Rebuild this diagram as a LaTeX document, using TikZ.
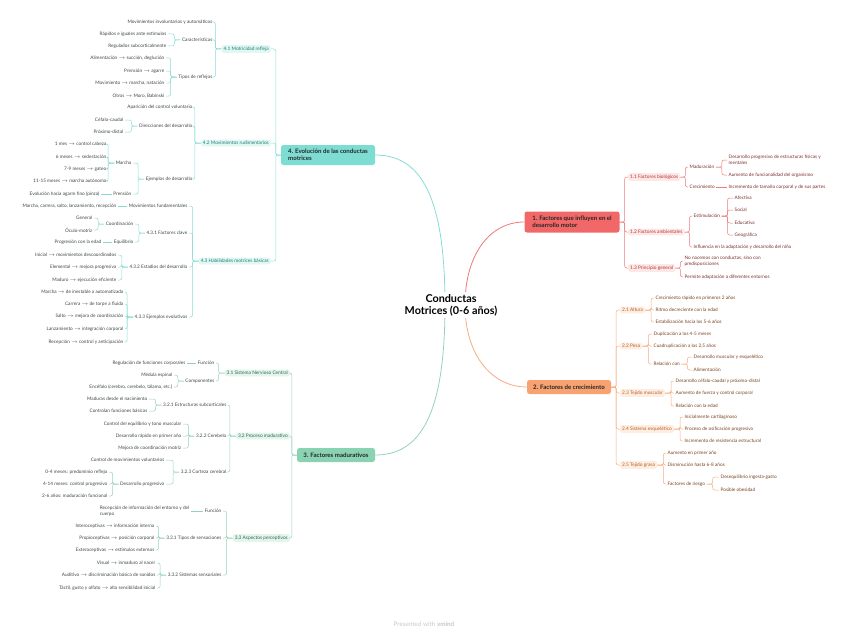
\documentclass[tikz,border=0pt]{standalone}
\usepackage{fontspec}
\setmainfont{Lato}
\usepackage{tikz}
\usetikzlibrary{positioning, backgrounds}
\definecolor{redln}{RGB}{238,122,122}
\definecolor{redbox}{RGB}{242,104,104}
\definecolor{redpill}{RGB}{253,232,232}
\definecolor{redsub}{RGB}{185,50,50}
\definecolor{redlf}{RGB}{125,45,45}
\definecolor{orln}{RGB}{245,172,128}
\definecolor{orbox}{RGB}{247,162,112}
\definecolor{orpill}{RGB}{254,238,226}
\definecolor{orsub}{RGB}{185,95,40}
\definecolor{orlf}{RGB}{120,65,30}
\definecolor{grnln}{RGB}{150,210,185}
\definecolor{grnbox}{RGB}{138,211,178}
\definecolor{grnpill}{RGB}{229,245,238}
\definecolor{grnsub}{RGB}{40,105,78}
\definecolor{tealln}{RGB}{135,220,212}
\definecolor{tealbox}{RGB}{125,221,211}
\definecolor{tealpill}{RGB}{225,247,244}
\definecolor{tealsub}{RGB}{30,125,116}
\definecolor{leafgray}{RGB}{62,70,68}
\newcommand{\toarr}{$\rightarrow$}

\begin{document}
\begin{tikzpicture}[
  x=1pt, y=-1pt,
  root/.style={fill=white, align=center, inner sep=2pt,
               font=\bfseries\fontsize{10.8}{12.2}\selectfont},
  mbox/.style={rectangle, rounded corners=2.5pt, align=left, text=black!85,
               inner xsep=4pt, inner ysep=2.5pt,
               font=\bfseries\fontsize{6.1}{7}\selectfont},
  pill/.style={rectangle, rounded corners=1.5pt, inner xsep=2pt, inner ysep=1.6pt,
               font=\fontsize{4.8}{5.8}\selectfont},
  leaf/.style={inner xsep=1.5pt, inner ysep=1pt, align=left,
               font=\fontsize{4.7}{5.9}\selectfont},
  p1/.style={pill, anchor=west, fill=redpill, text=redsub},
  p2/.style={pill, anchor=west, fill=orpill, text=orsub},
  p3/.style={pill, anchor=east, fill=grnpill, text=grnsub},
  p4/.style={pill, anchor=east, fill=tealpill, text=tealsub},
  l1/.style={leaf, anchor=west, text=redlf},
  l2/.style={leaf, anchor=west, text=orlf},
  l3/.style={leaf, anchor=east, text=leafgray},
  l4/.style={leaf, anchor=east, text=leafgray},
  k1/.style={draw=redln, line width=.5pt, rounded corners=2pt},
  k2/.style={draw=orln, line width=.5pt, rounded corners=2pt},
  k3/.style={draw=grnln, line width=.5pt, rounded corners=2pt},
  k4/.style={draw=tealln, line width=.5pt, rounded corners=2pt}
]
  \useasboundingbox (0,0) rectangle (848,634);

  % centre and main branches
  \node[root] (ctr) at (451,305) {Conductas\\Motrices (0-6 años)};
  \coordinate (cL) at ([xshift=-6pt]ctr.center);
  \coordinate (cR) at ([xshift=14pt]ctr.center);
  \node[mbox, fill=redbox, minimum width=95pt, minimum height=21pt] (b1) at (572,222)
    {1. Factores que influyen en el\\desarrollo motor};
  \node[mbox, fill=orbox, minimum width=84pt, minimum height=14pt] (b2) at (569,387)
    {2. Factores de crecimiento};
  \node[mbox, fill=grnbox, minimum width=78pt, minimum height=14pt] (b3) at (336,455)
    {3. Factores madurativos};
  \node[mbox, fill=tealbox, minimum width=94pt, minimum height=20pt] (b4) at (328,155)
    {4. Evolución de las conductas\\motrices};
  \begin{scope}[on background layer]
    \draw[redln, line width=.8pt] (b1.west) .. controls +(-35,0) and +(0,-50) .. (cR);
    \draw[orln, line width=.8pt] (cR) .. controls +(0,50) and +(-35,0) .. (b2.west);
    \draw[grnln, line width=.8pt] (cL) .. controls +(0,110) and +(45,0) .. (b3.east);
    \draw[tealln, line width=.8pt] (b4.east) .. controls +(45,0) and +(0,-110) .. (cL);
  \end{scope}

  % 1. Factores que influyen
  \node[p1] (s11) at (628,177) {1.1 Factores biológicos};
  \node[p1] (s12) at (628,232) {1.2 Factores ambientales};
  \node[p1] (s13) at (628,268) {1.3 Principio general};
  \node[l1] (t111) at (688,167) {Maduración};
  \node[l1] (t112) at (688,187) {Crecimiento};
  \node[l1] (u1111) at (727,160) {Desarrollo progresivo de estructuras físicas y\\mentales};
  \node[l1] (u1112) at (727,175) {Aumento de funcionalidad del organismo};
  \node[l1] (u1121) at (727,187) {Incremento de tamaño corporal y de sus partes};
  \node[l1] (t121) at (692,216) {Estimulación};
  \node[l1] (t122) at (692,247) {Influencia en la adaptación y desarrollo del niño};
  \node[l1] (u1211) at (733,198) {Afectiva};
  \node[l1] (u1212) at (733,210) {Social};
  \node[l1] (u1213) at (733,223) {Educativa};
  \node[l1] (u1214) at (733,235) {Geográfica};
  \node[l1] (t131) at (683,261) {No nacemos con conductas, sino con\\predisposiciones};
  \node[l1] (t132) at (683,277) {Permite adaptación a diferentes entornos};

  \foreach \k in {s11,s12,s13} \draw[k1] (b1.east) -- ++(5,0) |- (\k.west);
  \foreach \k in {t111,t112} \draw[k1] (s11.east) -- ++(5,0) |- (\k.west);
  \foreach \k in {u1111,u1112} \draw[k1] (t111.east) -- ++(6,0) |- (\k.west);
  \draw[k1] (t112.east) -- (u1121.west);
  \foreach \k in {t121,t122} \draw[k1] (s12.east) -- ++(5,0) |- (\k.west);
  \foreach \k in {u1211,u1212,u1213,u1214} \draw[k1] (t121.east) -- ++(6,0) |- (\k.west);
  \foreach \k in {t131,t132} \draw[k1] (s13.east) -- ++(5,0) |- (\k.west);

  % 2. Factores de crecimiento
  \node[p2] (s21) at (620,310) {2.1 Altura};
  \node[p2] (s22) at (620,346) {2.2 Peso};
  \node[p2] (s23) at (620,393) {2.3 Tejido muscular};
  \node[p2] (s24) at (620,429) {2.4 Sistema esquelético};
  \node[p2] (s25) at (620,465) {2.5 Tejido graso};
  \node[l2] (t211) at (654,298) {Crecimiento rápido en primeros 2 años};
  \node[l2] (t212) at (654,310) {Ritmo decreciente con la edad};
  \node[l2] (t213) at (654,322) {Estabilización hacia los 5-6 años};
  \node[l2] (t221) at (652,334) {Duplicación a los 4-5 meses};
  \node[l2] (t222) at (652,346) {Cuadruplicación a los 2,5 años};
  \node[l2] (t223) at (652,364) {Relación con};
  \node[l2] (u2231) at (692,357) {Desarrollo muscular y esquelético};
  \node[l2] (u2232) at (692,370) {Alimentación};
  \node[l2] (t231) at (674,381) {Desarrollo céfalo-caudal y próximo-distal};
  \node[l2] (t232) at (674,393) {Aumento de fuerza y control corporal};
  \node[l2] (t233) at (674,406) {Relación con la edad};
  \node[l2] (t241) at (683,417) {Inicialmente cartilaginoso};
  \node[l2] (t242) at (683,429) {Proceso de osificación progresiva};
  \node[l2] (t243) at (683,441) {Incremento de resistencia estructural};
  \node[l2] (t251) at (666,453) {Aumento en primer año};
  \node[l2] (t252) at (666,465) {Disminución hasta 6-8 años};
  \node[l2] (t253) at (666,484) {Factores de riesgo};
  \node[l2] (u2531) at (719,477) {Desequilibrio ingesta-gasto};
  \node[l2] (u2532) at (719,490) {Posible obesidad};

  \foreach \k in {s21,s22,s23,s24,s25} \draw[k2] (b2.east) -- ++(5,0) |- (\k.west);
  \foreach \k in {t211,t212,t213} \draw[k2] (s21.east) -- ++(6,0) |- (\k.west);
  \foreach \k in {t221,t222,t223} \draw[k2] (s22.east) -- ++(6,0) |- (\k.west);
  \foreach \k in {u2231,u2232} \draw[k2] (t223.east) -- ++(6,0) |- (\k.west);
  \foreach \k in {t231,t232,t233} \draw[k2] (s23.east) -- ++(6,0) |- (\k.west);
  \foreach \k in {t241,t242,t243} \draw[k2] (s24.east) -- ++(6,0) |- (\k.west);
  \foreach \k in {t251,t252,t253} \draw[k2] (s25.east) -- ++(6,0) |- (\k.west);
  \foreach \k in {u2531,u2532} \draw[k2] (t253.east) -- ++(6,0) |- (\k.west);

  % 3. Factores madurativos
  \node[p3] (s31) at (290,373) {3.1 Sistema Nervioso Central};
  \node[p3] (s32) at (290,436) {3.2 Proceso madurativo};
  \node[p3] (s33) at (290,538) {3.3 Aspectos perceptivos};
  \node[l3] (t311) at (216,363) {Función};
  \node[l3] (t312) at (216,381) {Componentes};
  \node[l3] (u3111) at (187,363) {Regulación de funciones corporales};
  \node[l3] (u3121) at (174,375) {Médula espinal};
  \node[l3] (u3122) at (174,387) {Encéfalo (cerebro, cerebelo, tálamo, etc.)};
  \node[l3] (t321) at (228,405) {3.2.1 Estructuras subcorticales};
  \node[l3] (t322) at (228,436) {3.2.2 Cerebelo};
  \node[l3] (t323) at (228,472) {3.2.3 Corteza cerebral};
  \node[l3] (u3211) at (149,399) {Maduras desde el nacimiento};
  \node[l3] (u3212) at (149,411) {Controlan funciones básicas};
  \node[l3] (u3221) at (183,424) {Control del equilibrio y tono muscular};
  \node[l3] (u3222) at (183,436) {Desarrollo rápido en primer año};
  \node[l3] (u3223) at (183,448) {Mejora de coordinación motriz};
  \node[l3] (u3231) at (166,460) {Control de movimientos voluntarios};
  \node[l3] (u3232) at (166,484) {Desarrollo progresivo};
  \node[l3] (v32321) at (109,472) {0-4 meses: predominio reflejo};
  \node[l3] (v32322) at (109,484) {4-14 meses: control progresivo};
  \node[l3] (v32323) at (109,496) {2-6 años: maduración funcional};
  \node[l3] (t331) at (223,511) {Función};
  \node[l3] (t332) at (223,538) {3.3.1 Tipos de sensaciones};
  \node[l3] (t333) at (223,575) {3.3.2 Sistemas sensoriales};
  \node[l3] (u3311) at (191,511) {Recepción de información del entorno y del\\cuerpo};
  \node[l3] (u3321) at (156,526) {Interoceptivas \toarr{} información interna};
  \node[l3] (u3322) at (156,538) {Propioceptivas \toarr{} posición corporal};
  \node[l3] (u3323) at (156,550) {Exteroceptivas \toarr{} estímulos externos};
  \node[l3] (u3331) at (157,563) {Visual \toarr{} inmaduro al nacer};
  \node[l3] (u3332) at (157,575) {Auditivo \toarr{} discriminación básica de sonidos};
  \node[l3] (u3333) at (157,588) {Táctil, gusto y olfato \toarr{} alta sensibilidad inicial};

  \foreach \k in {s31,s32,s33} \draw[k3] (b3.west) -- ++(-5,0) |- (\k.east);
  \foreach \k in {t311,t312} \draw[k3] (s31.west) -- ++(-6,0) |- (\k.east);
  \draw[k3] (t311.west) -- (u3111.east);
  \foreach \k in {u3121,u3122} \draw[k3] (t312.west) -- ++(-6,0) |- (\k.east);
  \foreach \k in {t321,t322,t323} \draw[k3] (s32.west) -- ++(-6,0) |- (\k.east);
  \foreach \k in {u3211,u3212} \draw[k3] (t321.west) -- ++(-6,0) |- (\k.east);
  \foreach \k in {u3221,u3222,u3223} \draw[k3] (t322.west) -- ++(-6,0) |- (\k.east);
  \foreach \k in {u3231,u3232} \draw[k3] (t323.west) -- ++(-6,0) |- (\k.east);
  \foreach \k in {v32321,v32322,v32323} \draw[k3] (u3232.west) -- ++(-6,0) |- (\k.east);
  \foreach \k in {t331,t332,t333} \draw[k3] (s33.west) -- ++(-6,0) |- (\k.east);
  \draw[k3] (t331.west) -- (u3311.east);
  \foreach \k in {u3321,u3322,u3323} \draw[k3] (t332.west) -- ++(-6,0) |- (\k.east);
  \foreach \k in {u3331,u3332,u3333} \draw[k3] (t333.west) -- ++(-6,0) |- (\k.east);

  % 4. Evolucion de las conductas motrices
  \node[p4] (s41) at (271,49) {4.1 Motricidad refleja};
  \node[p4] (s42) at (271,143) {4.2 Movimientos rudimentarios};
  \node[p4] (s43) at (271,261) {4.3 Habilidades motrices básicas};
  \node[l4] (t411) at (214,22) {Movimientos involuntarios y automáticos};
  \node[l4] (t412) at (214,40) {Características};
  \node[l4] (t413) at (214,77) {Tipos de reflejos};
  \node[l4] (u4121) at (168,34) {Rápidos e iguales ante estímulos};
  \node[l4] (u4122) at (168,46) {Regulados subcorticalmente};
  \node[l4] (u4131) at (166,58) {Alimentación \toarr{} succión, deglución};
  \node[l4] (u4132) at (166,71) {Prensión \toarr{} agarre};
  \node[l4] (u4133) at (166,83) {Movimiento \toarr{} marcha, natación};
  \node[l4] (u4134) at (166,96) {Otros \toarr{} Moro, Babinski};
  \node[l4] (t421) at (194,107) {Aparición del control voluntario};
  \node[l4] (t422) at (194,126) {Direcciones del desarrollo};
  \node[l4] (t423) at (194,179) {Ejemplos de desarrollo};
  \node[l4] (u4221) at (125,120) {Céfalo-caudal};
  \node[l4] (u4222) at (125,132) {Próximo-distal};
  \node[l4] (u4231) at (133,163) {Marcha};
  \node[l4] (u4232) at (133,194) {Prensión};
  \node[l4] (v42311) at (108,144) {1 mes \toarr{} control cabeza};
  \node[l4] (v42312) at (108,157) {6 meses \toarr{} sedestación};
  \node[l4] (v42313) at (108,169) {7-9 meses \toarr{} gateo};
  \node[l4] (v42314) at (108,181) {11-15 meses \toarr{} marcha autónoma};
  \node[l4] (v42321) at (101,194) {Evolución hacia agarre fino (pinza)};
  \node[l4] (t431) at (189,206) {Movimientos fundamentales};
  \node[l4] (t432) at (189,233) {4.3.1 Factores clave};
  \node[l4] (t433) at (189,267) {4.3.2 Estadios del desarrollo};
  \node[l4] (t434) at (189,317) {4.3.3 Ejemplos evolutivos};
  \node[l4] (u4311) at (118,206) {Marcha, carrera, salto, lanzamiento, recepción};
  \node[l4] (u4321) at (135,224) {Coordinación};
  \node[l4] (u4322) at (135,242) {Equilibrio};
  \node[l4] (v43211) at (94,218) {General};
  \node[l4] (v43212) at (94,230) {Óculo-motriz};
  \node[l4] (v43221) at (103,242) {Progresión con la edad};
  \node[l4] (u4331) at (118,255) {Inicial \toarr{} movimientos descoordinados};
  \node[l4] (u4332) at (118,267) {Elemental \toarr{} mejora progresiva};
  \node[l4] (u4333) at (118,280) {Maduro \toarr{} ejecución eficiente};
  \node[l4] (u4341) at (125,292) {Marcha \toarr{} de inestable a automatizada};
  \node[l4] (u4342) at (125,304) {Carrera \toarr{} de torpe a fluida};
  \node[l4] (u4343) at (125,316) {Salto \toarr{} mejora de coordinación};
  \node[l4] (u4344) at (125,329) {Lanzamiento \toarr{} integración corporal};
  \node[l4] (u4345) at (125,342) {Recepción \toarr{} control y anticipación};

  \foreach \k in {s41,s42,s43} \draw[k4] (b4.west) -- ++(-5,0) |- (\k.east);
  \foreach \k in {t411,t412,t413} \draw[k4] (s41.west) -- ++(-6,0) |- (\k.east);
  \foreach \k in {u4121,u4122} \draw[k4] (t412.west) -- ++(-6,0) |- (\k.east);
  \foreach \k in {u4131,u4132,u4133,u4134} \draw[k4] (t413.west) -- ++(-6,0) |- (\k.east);
  \foreach \k in {t421,t422,t423} \draw[k4] (s42.west) -- ++(-6,0) |- (\k.east);
  \foreach \k in {u4221,u4222} \draw[k4] (t422.west) -- ++(-6,0) |- (\k.east);
  \foreach \k in {u4231,u4232} \draw[k4] (t423.west) -- ++(-6,0) |- (\k.east);
  \foreach \k in {v42311,v42312,v42313,v42314} \draw[k4] (u4231.west) -- ++(-6,0) |- (\k.east);
  \draw[k4] (u4232.west) -- (v42321.east);
  \foreach \k in {t431,t432,t433,t434} \draw[k4] (s43.west) -- ++(-6,0) |- (\k.east);
  \draw[k4] (t431.west) -- (u4311.east);
  \foreach \k in {u4321,u4322} \draw[k4] (t432.west) -- ++(-6,0) |- (\k.east);
  \foreach \k in {v43211,v43212} \draw[k4] (u4321.west) -- ++(-6,0) |- (\k.east);
  \draw[k4] (u4322.west) -- (v43221.east);
  \foreach \k in {u4331,u4332,u4333} \draw[k4] (t433.west) -- ++(-6,0) |- (\k.east);
  \foreach \k in {u4341,u4342,u4343,u4344,u4345} \draw[k4] (t434.west) -- ++(-6,0) |- (\k.east);

  \node[font=\fontsize{6.3}{7}\selectfont, text=black!22] (foot) at (424,624)
    {Presented with \textbf{xmind}};
\end{tikzpicture}
\end{document}
